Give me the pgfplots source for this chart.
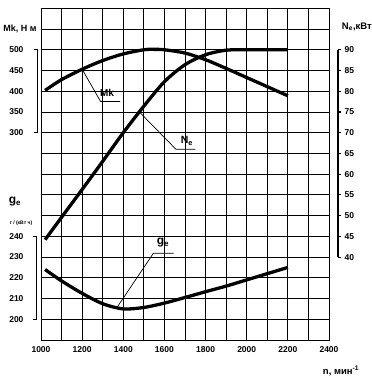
\documentclass[border=0pt]{standalone}
\usepackage{pgfplots}
\pgfplotsset{compat=1.18}
\usepackage{fontspec}
\setmainfont{Liberation Sans}

\begin{document}
\begin{tikzpicture}
\pgfplotsset{
  base/.style={width=288pt,height=331.7pt,scale only axis,xmin=1000,xmax=2400,
    /pgf/number format/assume math mode=true, /pgf/number format/1000 sep={},
    ticklabel style={font=\fontsize{8.5}{10}\selectfont\bfseries},
    major tick length=0pt, minor tick length=0pt,
    clip=false},
}
\useasboundingbox (-41pt,-38pt) rectangle (331pt,340pt);

% Mk axis with grid
\begin{axis}[base, ymin=-200, ymax=600,
  xtick={1000,1200,...,2400}, minor xtick={1100,1300,...,2300},
  ytick={300,350,...,500}, minor ytick={-200,-150,...,600},
  grid=both, grid style={black,line width=0.8pt}, minor grid style={black,line width=0.8pt},
  axis line style={line width=0.9pt},
  yticklabel style={xshift=-14pt},
  xticklabel style={yshift=-3pt},
]
\addplot[line width=3.3pt, smooth] coordinates {
 (1020,402) (1100,428) (1200,453) (1300,474) (1400,490) (1500,500) (1550,501)
 (1600,500) (1700,492) (1800,476) (1900,455) (2000,433) (2100,411) (2200,389)};
\draw[line width=0.7pt] (axis cs:1200,453) -- (axis cs:1290,375) -- (axis cs:1385,375);
\draw[line width=1.3pt] ([xshift=-7pt]axis cs:1000,500) -- ([xshift=-3.5pt]axis cs:1000,500)
  -- ([xshift=-3.5pt]axis cs:1000,300) -- ([xshift=-7pt]axis cs:1000,300);
\end{axis}

% Ne axis (right)
\begin{axis}[base, ymin=20, ymax=100,
  axis y line*=right, hide x axis, axis line style={draw=none},
  ytick={40,45,...,90}, yticklabel style={xshift=12pt},
]
\addplot[line width=3.3pt, smooth] coordinates {
 (1020,44.2) (1100,49.6) (1200,56.3) (1300,63.1) (1400,70) (1500,76.4) (1600,82.3)
 (1700,86.4) (1800,88.8) (1900,89.9) (2000,90) (2100,90) (2200,90)};
\draw[line width=0.7pt] (axis cs:1478,75) -- (axis cs:1656,66) -- (axis cs:1750,66);
\draw[line width=1.3pt] ([xshift=9pt]axis cs:2400,40) -- ([xshift=9pt]axis cs:2400,90);
\pgfplotsinvokeforeach{40,45,...,90}{
  \draw[line width=1.1pt] ([xshift=9pt]axis cs:2400,#1) -- ([xshift=12pt]axis cs:2400,#1);
}
\end{axis}

% ge axis (left)
\begin{axis}[base, ymin=190, ymax=350,
  axis y line*=left, hide x axis, axis line style={draw=none},
  ytick={200,210,...,240}, yticklabel style={xshift=-14pt},
]
\addplot[line width=3.3pt, smooth] coordinates {
 (1020,224) (1100,218.5) (1200,212.5) (1300,207.5) (1400,205) (1500,205.7)
 (1600,207.8) (1700,210.5) (1800,213.3) (1900,216) (2000,219) (2100,222) (2200,225)};
\draw[line width=0.7pt] (axis cs:1368,205.5) -- (axis cs:1546,231.8) -- (axis cs:1645,231.8);
\draw[line width=1.3pt] ([xshift=-7.5pt]axis cs:1000,240) -- ([xshift=-4.5pt]axis cs:1000,240)
  -- ([xshift=-4.5pt]axis cs:1000,200) -- ([xshift=-7.5pt]axis cs:1000,200);
\end{axis}

% labels
\node[font=\fontsize{10}{11}\selectfont\bfseries] at (66pt,247pt) {Mk};
\node[font=\fontsize{10.5}{11}\selectfont\bfseries] at (146pt,199pt) {N\textsubscript{e}};
\node[font=\fontsize{12}{13}\selectfont\bfseries] at (122pt,97pt) {g\textsubscript{e}};
\node[font=\fontsize{9}{10}\selectfont\bfseries] at (-21pt,311pt) {Mk, Н м};
\node[font=\fontsize{9.5}{10}\selectfont\bfseries, anchor=east, inner sep=0pt] at (331pt,313pt) {N\textsubscript{e},кВт};
\node[font=\fontsize{12}{13}\selectfont\bfseries] at (-26pt,138pt) {g\textsubscript{e}};
\node[font=\fontsize{5}{6}\selectfont\bfseries] at (-20pt,117pt) {г / (кВт ч)};
\node[font=\fontsize{9.5}{10}\selectfont\bfseries] at (300pt,-31pt) {n, мин\textsuperscript{-1}};
\end{tikzpicture}
\end{document}
